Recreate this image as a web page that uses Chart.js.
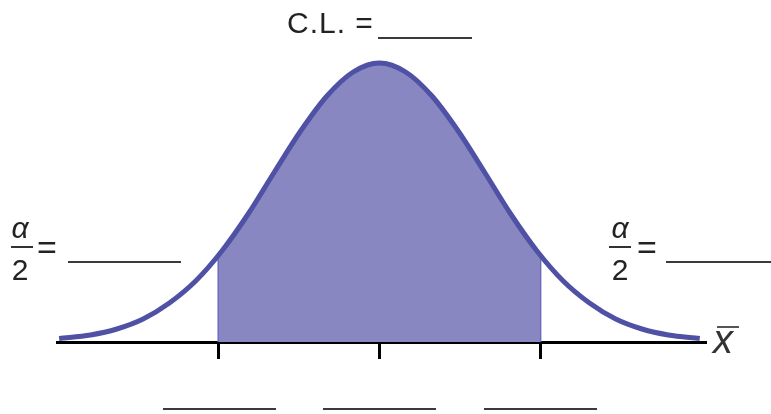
<!DOCTYPE html>
<html>
<head>
<meta charset="utf-8">
<script src="https://cdn.jsdelivr.net/npm/chart.js@4"></script>
<style>
  body { margin: 0; background: #fff; }
  #wrap { position: relative; width: 771px; height: 414px; font-family: "Liberation Sans", Arial, sans-serif; color: #222; }
  #wrap canvas { position: absolute; left: 0; top: 0; }
  .t { position: absolute; white-space: nowrap; }
  .ln { position: absolute; height: 2px; background: #3a3a3a; }
</style>
</head>
<body>
<div id="wrap">
  <canvas id="bell" width="771" height="414"></canvas>

  <div class="t" style="left:287px;top:8px;font-size:30px;line-height:30px;letter-spacing:1px;">C.L. =</div>
  <div class="ln" style="left:378px;top:37px;width:94px;"></div>

  <div class="t" style="left:5px;top:213px;width:30px;text-align:center;font-size:30px;line-height:30px;font-style:italic;">α</div>
  <div class="ln" style="left:11px;top:246px;width:22px;background:#333;"></div>
  <div class="t" style="left:5px;top:255px;width:30px;text-align:center;font-size:30px;line-height:30px;">2</div>
  <div class="t" style="left:37px;top:230px;font-size:34px;line-height:34px;">=</div>
  <div class="ln" style="left:68px;top:261px;width:113px;"></div>

  <div class="t" style="left:605px;top:213px;width:30px;text-align:center;font-size:30px;line-height:30px;font-style:italic;">α</div>
  <div class="ln" style="left:609px;top:246px;width:22px;background:#333;"></div>
  <div class="t" style="left:605px;top:255px;width:30px;text-align:center;font-size:30px;line-height:30px;">2</div>
  <div class="t" style="left:637px;top:230px;font-size:34px;line-height:34px;">=</div>
  <div class="ln" style="left:666px;top:261px;width:105px;"></div>

  <div class="ln" style="left:717px;top:326px;width:22px;height:2px;background:#555;"></div>
  <div class="t" style="left:713px;top:319px;font-size:40px;line-height:40px;font-style:italic;color:#333;">x</div>

  <div class="ln" style="left:163px;top:408px;width:113px;"></div>
  <div class="ln" style="left:323px;top:408px;width:113px;"></div>
  <div class="ln" style="left:484px;top:408px;width:113px;"></div>
</div>

<script>
// curve: x in standard deviations, height in px above the base
var zPoints = [-3.05, -2.75, -2.5, -2.25, -2, -1.75, -1.5, -1.25, -1, -0.75, -0.5, -0.25, 0,
               0.25, 0.5, 0.75, 1, 1.25, 1.5, 1.75, 2, 2.25, 2.5, 2.75, 3.05];
var heights = [2.5, 6, 12, 22, 38, 60, 90, 127, 169, 210, 245, 269, 278,
               269, 245, 210, 169, 127, 90, 60, 38, 22, 12, 6, 2.5];

// shaded part (confidence level) between the two critical values
var shadeZ = [-1.535, -1.5, -1.25, -1, -0.75, -0.5, -0.25, 0, 0.25, 0.5, 0.75, 1, 1.25, 1.5, 1.535];
var shadeH = [86, 90, 127, 169, 210, 245, 269, 278, 269, 245, 210, 169, 127, 90, 86];

var tickValues = [-1.535, 0, 1.535];

var curve = zPoints.map(function (z, i) { return { x: z, y: heights[i] }; });
var shade = shadeZ.map(function (z, i) { return { x: z, y: shadeH[i] }; });
var leftEdge = [{ x: shadeZ[0], y: -1 }, { x: shadeZ[0], y: shadeH[0] }];
var rightEdge = [{ x: shadeZ[shadeZ.length - 1], y: -1 }, { x: shadeZ[shadeZ.length - 1], y: shadeH[shadeH.length - 1] }];

var ctx = document.getElementById("bell").getContext("2d");
var chart = new Chart(ctx, {
  type: "line",
  data: {
    datasets: [
      {
        data: curve,
        borderColor: "#4f51a5",
        borderWidth: 5,
        pointRadius: 0,
        fill: false,
        cubicInterpolationMode: "monotone",
        clip: false,
        order: 0
      },
      {
        data: leftEdge,
        borderColor: "#6b6cc0",
        borderWidth: 1.5,
        pointRadius: 0,
        tension: 0,
        fill: false,
        order: 1
      },
      {
        data: rightEdge,
        borderColor: "#6b6cc0",
        borderWidth: 1.5,
        pointRadius: 0,
        tension: 0,
        fill: false,
        order: 1
      },
      {
        data: shade,
        borderWidth: 0,
        pointRadius: 0,
        backgroundColor: "#8987c2",
        fill: "start",
        cubicInterpolationMode: "monotone",
        order: 2
      }
    ]
  },
  options: {
    responsive: false,
    animation: false,
    events: [],
    layout: { padding: { left: 57, right: 66, top: 41, bottom: 55 } },
    plugins: { legend: { display: false }, tooltip: { enabled: false }, title: { display: false } },
    scales: {
      x: {
        type: "linear",
        min: -3.07,
        max: 3.1,
        afterBuildTicks: function (scale) {
          scale.ticks = tickValues.map(function (v) { return { value: v }; });
        },
        ticks: { display: false },
        grid: { drawOnChartArea: false, drawTicks: true, tickLength: 17, color: "#000", lineWidth: 3 },
        border: { display: true, color: "#000", width: 3 }
      },
      y: {
        display: false,
        min: -1,
        max: 300
      }
    }
  }
});
</script>
</body>
</html>
